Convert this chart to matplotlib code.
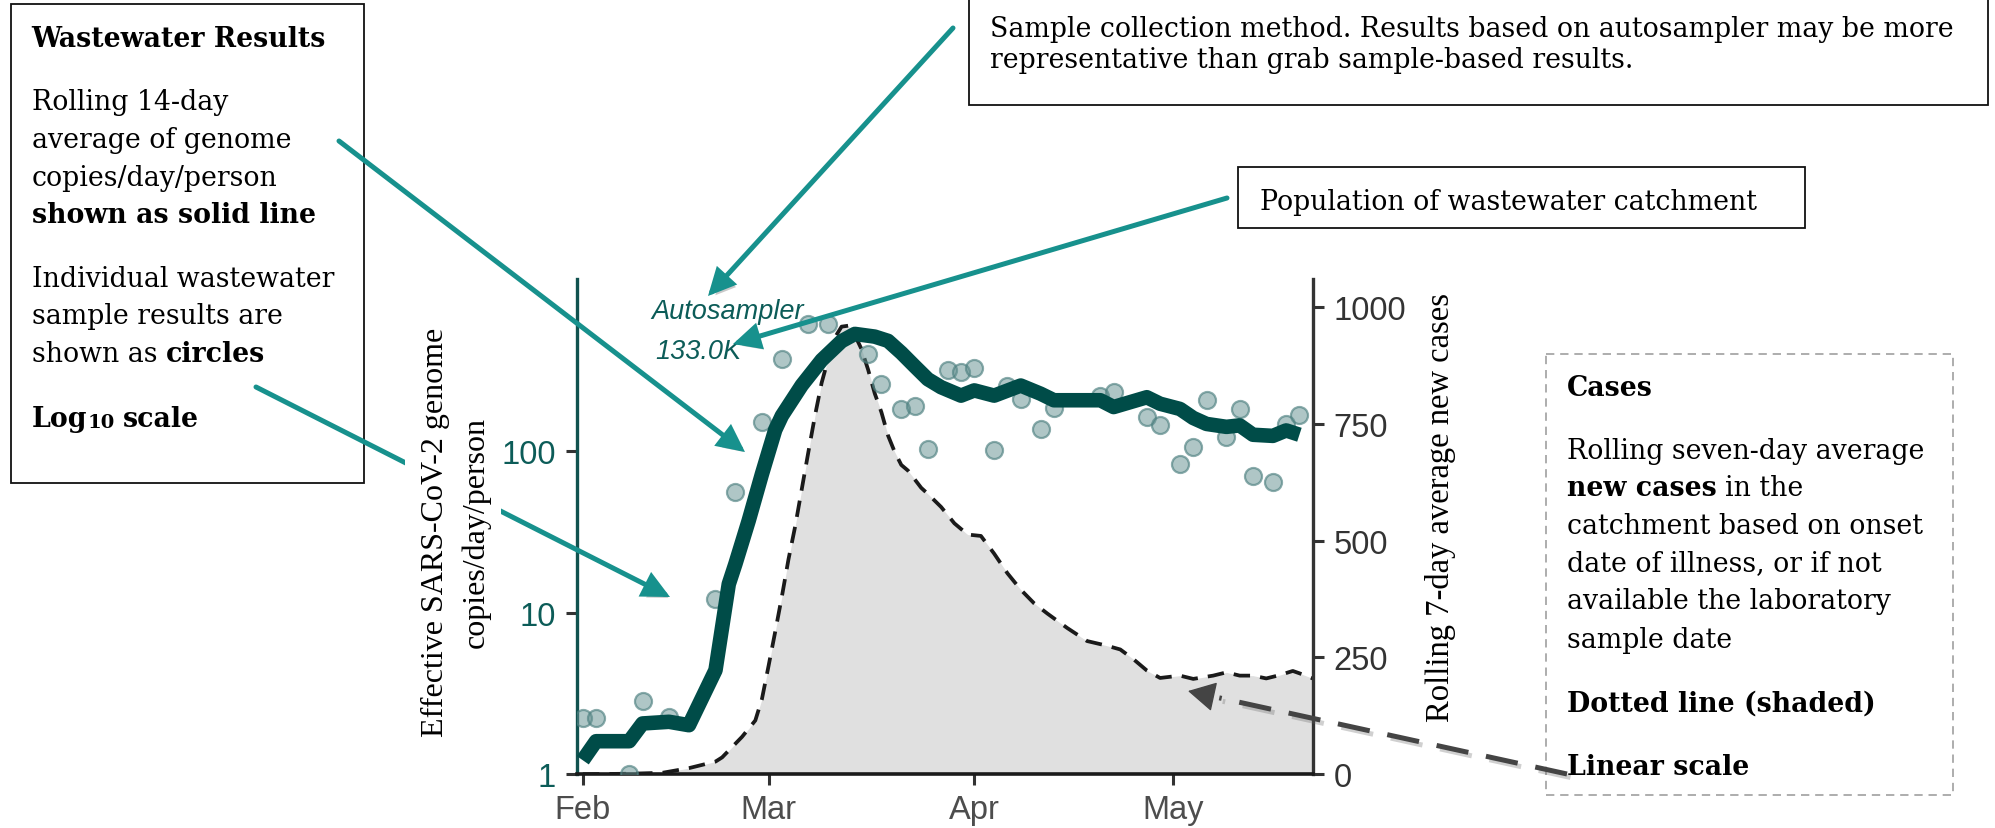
import matplotlib
matplotlib.use("Agg")
import matplotlib.pyplot as plt
from matplotlib.patches import Rectangle, FancyArrowPatch
from matplotlib.lines import Line2D
import matplotlib.patheffects as pe
import pandas as pd
import numpy as np

plt.rcParams['font.family'] = ['Liberation Sans', 'DejaVu Sans']

# ---------------- data ----------------
sample_dates = ["2022-02-01", "2022-02-03", "2022-02-08", "2022-02-10", "2022-02-14",
                "2022-02-21", "2022-02-24", "2022-02-28", "2022-03-03", "2022-03-07",
                "2022-03-10", "2022-03-16", "2022-03-18", "2022-03-21", "2022-03-23",
                "2022-03-25", "2022-03-28", "2022-03-30", "2022-04-01", "2022-04-04",
                "2022-04-06", "2022-04-08", "2022-04-11", "2022-04-13", "2022-04-20",
                "2022-04-22", "2022-04-27", "2022-04-29", "2022-05-02", "2022-05-04",
                "2022-05-06", "2022-05-09", "2022-05-11", "2022-05-13", "2022-05-16",
                "2022-05-18", "2022-05-20"]
sample_copies = [2.22, 2.22, 1.0, 2.85, 2.27, 12.1, 56, 152, 373, 610,
                 610, 399, 261, 182, 191, 103, 315, 308, 326, 101,
                 254, 210, 137, 184, 220, 231, 162, 144, 83, 106,
                 208, 122, 182, 70, 64, 147, 167]

avg_dates = ["2022-02-01", "2022-02-03", "2022-02-08", "2022-02-10", "2022-02-14",
             "2022-02-17", "2022-02-21", "2022-02-23", "2022-02-24", "2022-02-26",
             "2022-02-28", "2022-03-02", "2022-03-03", "2022-03-06", "2022-03-09",
             "2022-03-12", "2022-03-14", "2022-03-17", "2022-03-19", "2022-03-21",
             "2022-03-23", "2022-03-25", "2022-03-27", "2022-03-30", "2022-04-01",
             "2022-04-04", "2022-04-08", "2022-04-11", "2022-04-13", "2022-04-20",
             "2022-04-22", "2022-04-27", "2022-04-29", "2022-05-02", "2022-05-04",
             "2022-05-06", "2022-05-09", "2022-05-11", "2022-05-13", "2022-05-16",
             "2022-05-18", "2022-05-20"]
avg_copies = [1.22, 1.60, 1.60, 2.06, 2.11, 2.01, 4.4, 15, 20, 37,
              72, 135, 165, 255, 365, 478, 530, 510, 480, 405,
              335, 278, 248, 220, 237, 220, 254, 226, 206, 206,
              187, 215, 196, 182, 160, 147, 141, 144, 126, 124,
              134, 126]

case_dates = ["2022-02-01", "2022-02-08", "2022-02-13", "2022-02-17", "2022-02-21",
              "2022-02-22", "2022-02-25", "2022-02-27", "2022-02-28", "2022-03-01",
              "2022-03-02", "2022-03-03", "2022-03-04", "2022-03-05", "2022-03-06",
              "2022-03-07", "2022-03-08", "2022-03-09", "2022-03-10", "2022-03-11",
              "2022-03-12", "2022-03-13", "2022-03-14", "2022-03-15", "2022-03-16",
              "2022-03-17", "2022-03-18", "2022-03-19", "2022-03-20", "2022-03-21",
              "2022-03-22", "2022-03-24", "2022-03-25", "2022-03-27", "2022-03-29",
              "2022-03-31", "2022-04-02", "2022-04-04", "2022-04-06", "2022-04-08",
              "2022-04-10", "2022-04-12", "2022-04-15", "2022-04-18", "2022-04-21",
              "2022-04-23", "2022-04-25", "2022-04-27", "2022-04-29", "2022-05-02",
              "2022-05-04", "2022-05-07", "2022-05-09", "2022-05-11", "2022-05-13",
              "2022-05-15", "2022-05-17", "2022-05-19", "2022-05-20", "2022-05-22"]
case_avg = [0, 1, 3, 13, 27, 36, 80, 115, 161, 232,
            305, 380, 460, 530, 610, 690, 768, 838, 890, 935,
            958, 960, 940, 910, 866, 815, 775, 725, 690, 662,
            650, 613, 600, 572, 537, 513, 510, 472, 430, 395,
            366, 344, 313, 285, 275, 267, 246, 222, 206, 211,
            204, 211, 218, 211, 211, 205, 212, 221, 216, 205]

month_tick_dates = ["2022-02-01", "2022-03-01", "2022-04-01", "2022-05-01"]
month_tick_labels = ["Feb", "Mar", "Apr", "May"]
left_ticks = [1, 10, 100]
right_ticks = [0, 250, 500, 750, 1000]
method_label = "Autosampler"
population_label = "133.0K"

# ---------------- styling ----------------
W, H = 1995, 829
DARK_TEAL = "#004c48"
AXIS_TEAL = "#11524f"
TICK_TEAL = "#0c5c58"
ARROW = "#17918d"
SERIF_BOX = "DejaVu Serif"
SERIF_LAB = "Liberation Serif"
BOX_FS = 19.3
TICK_FS = 23.5

fig = plt.figure(figsize=(W / 100, H / 100), dpi=100, facecolor="white")
ax_rect = [576.7 / W, 1 - 775.2 / H, (1312.7 - 576.7) / W, (775.2 - 280) / H]
ax = fig.add_axes(ax_rect)
ax2 = ax.twinx()
ax.set_zorder(ax2.get_zorder() + 1)
ax.patch.set_visible(False)

sd = pd.to_datetime(sample_dates)
ad = pd.to_datetime(avg_dates)
cd = pd.to_datetime(case_dates)

# cases (linear, right axis)
ax2.fill_between(cd, 0, case_avg, color="#e0e0e0", lw=0, zorder=1)
ax2.plot(cd, case_avg, color="#1a1a1a", lw=2.7, dashes=(4.4, 2.7), zorder=2)
ax2.set_ylim(0, 1060)
ax2.set_yticks(right_ticks)
ax2.set_yticklabels([str(t) for t in right_ticks])

# wastewater (log, left axis)
ax.scatter(sd, sample_copies, s=150, facecolor=(0.38, 0.56, 0.56, 0.5),
           edgecolor=(0.30, 0.50, 0.50, 0.65), linewidths=1.6, zorder=3)
ax.plot(ad, avg_copies, color=DARK_TEAL, lw=10.5, solid_capstyle="butt",
        solid_joinstyle="round", zorder=4)
ax.set_yscale("log")
ax.set_ylim(1, 1159)
ax.set_yticks(left_ticks)
ax.set_yticklabels([str(t) for t in left_ticks])
ax.minorticks_off()
ax.yaxis.set_minor_locator(matplotlib.ticker.NullLocator())

x0 = pd.Timestamp("2022-02-01")
ax.set_xlim(x0 - pd.Timedelta(hours=22), x0 + pd.Timedelta(days=110))
ax.set_xticks(pd.to_datetime(month_tick_dates))
ax.set_xticklabels(month_tick_labels)

for s in ["top", "right"]:
    ax.spines[s].set_visible(False)
ax.spines["left"].set_color(AXIS_TEAL)
ax.spines["left"].set_linewidth(2.4)
ax.spines["bottom"].set_color("#1a1a1a")
ax.spines["bottom"].set_linewidth(2.6)
for s in ["top", "left", "bottom"]:
    ax2.spines[s].set_visible(False)
ax2.spines["right"].set_color("#333333")
ax2.spines["right"].set_linewidth(2.4)

ax.tick_params(axis="y", which="major", length=8, width=2.2, color="#333333",
               labelcolor=TICK_TEAL, labelsize=TICK_FS, pad=7)
ax.tick_params(axis="x", length=8, width=2.2, color="#333333",
               labelcolor="#4d4d4d", labelsize=TICK_FS, pad=6)
ax2.tick_params(axis="y", length=8, width=2.2, color="#333333",
                labelcolor="#333333", labelsize=TICK_FS, pad=7)

# ---------------- overlay (annotations in pixel coordinates) ----------------
ov = fig.add_axes([0, 0, 1, 1], zorder=20)
ov.set_xlim(0, W)
ov.set_ylim(H, 0)
ov.axis("off")

renderer = fig.canvas.get_renderer()


def text_width(s, **kw):
    t = ov.text(0, 0, s, **kw)
    w = t.get_window_extent(renderer=renderer).width
    t.remove()
    return w


def rich(x, y, parts, size=BOX_FS, family=SERIF_BOX):
    sp = (text_width("n n", fontsize=size, family=family)
          - text_width("nn", fontsize=size, family=family))
    for p in parts:
        txt, bold = p[0], p[1]
        fs = p[2] if len(p) > 2 else size
        dy = p[3] if len(p) > 3 else 0
        if txt == " ":
            x += sp
            continue
        t = ov.text(x, y + dy, txt, fontsize=fs, family=family,
                    fontweight="bold" if bold else "normal",
                    va="baseline", ha="left", color="black", zorder=5)
        x += t.get_window_extent(renderer=renderer).width


# left box
ov.add_patch(Rectangle((10.7, 5), 353.3, 479, fill=False, ec="#111111", lw=1.3, zorder=2))
lx = 31.7
rich(lx, 46.7, [("Wastewater Results", True)])
rich(lx, 110, [("Rolling 14-day", False)])
rich(lx, 148.3, [("average of genome", False)])
rich(lx, 185.7, [("copies/day/person", False)])
rich(lx, 222.7, [("shown as solid line", True)])
rich(lx, 286.7, [("Individual wastewater", False)])
rich(lx, 324, [("sample results are", False)])
rich(lx, 361.7, [("shown as", False), (" ", False), ("circles", True)])
rich(lx, 426.7, [("Log", True), ("10", True, 14, 1.5), (" ", True), ("scale", True)])

# top box
ov.add_patch(Rectangle((969.3, -5), 1988 - 969.3, 111, fill=False, ec="#111111", lw=1.3, zorder=2))
rich(990, 36.7, [("Sample collection method. Results based on autosampler may be more", False)])
rich(990, 68.3, [("representative than grab sample-based results.", False)])

# population box
ov.add_patch(Rectangle((1238.3, 168.3), 1805 - 1238.3, 61, fill=False, ec="#111111", lw=1.3, zorder=2))
rich(1260, 210, [("Population of wastewater catchment", False)])

# right (cases) box
ov.add_patch(Rectangle((1546, 354.6), 1953 - 1546, 441, fill=False, ec="#a0a0a0", lw=1.2,
                       ls=(0, (5, 3.5)), zorder=2))
rx = 1566.7
rich(rx, 395.5, [("Cases", True)])
rich(rx, 458.6, [("Rolling seven-day average", False)])
rich(rx, 496.4, [("new cases", True), (" ", False), ("in the", False)])
rich(rx, 533.8, [("catchment based on onset", False)])
rich(rx, 571.3, [("date of illness, or if not", False)])
rich(rx, 609, [("available the laboratory", False)])
rich(rx, 647.6, [("sample date", False)])
rich(rx, 711.4, [("Dotted line (shaded)", True)])
rich(rx, 775.5, [("Linear scale", True)])

# method / population labels in plot
ov.text(651.7, 318.5, method_label, fontsize=19.5, style="italic", color=TICK_TEAL,
        va="baseline", ha="left", family="Liberation Sans", zorder=5)
ov.text(655, 358.8, population_label, fontsize=19.5, style="italic", color=TICK_TEAL,
        va="baseline", ha="left", family="Liberation Sans", zorder=5)

# axis titles
ov.add_patch(Rectangle((405, 320), 96, 425, fc="white", ec="none", zorder=3))
ov.text(435.5, 532, "Effective SARS-CoV-2 genome", rotation=90, fontsize=23,
        family=SERIF_LAB, ha="center", va="center", color="black", zorder=4)
ov.text(476.5, 532, "copies/day/person", rotation=90, fontsize=23,
        family=SERIF_LAB, ha="center", va="center", color="black", zorder=4)
ov.text(1441, 508, "Rolling 7-day average new cases", rotation=90, fontsize=23.5,
        family=SERIF_LAB, ha="center", va="center", color="black", zorder=4)

# teal arrows
shadow = [pe.SimplePatchShadow(offset=(2.5, -2.5), shadow_rgbFace="#666666", alpha=0.35), pe.Normal()]


def teal_arrow(p0, p1, z):
    a = FancyArrowPatch(p0, p1, arrowstyle="-|>,head_length=0.45,head_width=0.22",
                        mutation_scale=32, lw=3.6, color=ARROW, shrinkA=0, shrinkB=0,
                        path_effects=shadow, zorder=z, joinstyle="miter")
    ov.add_patch(a)


teal_arrow((953, 29), (708, 297), 6)
teal_arrow((1227, 199), (733, 345), 6)
teal_arrow((339, 142), (745, 453), 6)
teal_arrow((256, 388), (670, 598), 2)

# dashed dark arrow
p0 = np.array([1567.0, 775.0])
p1 = np.array([1188.0, 692.0])
u = (p1 - p0) / np.linalg.norm(p1 - p0)
head_base = p1 - 20 * u
line_end = head_base - 12 * u
ln = Line2D([p0[0], line_end[0]], [p0[1], line_end[1]], color="#444444", lw=3.6,
            dashes=(6.5, 3.6), solid_capstyle="butt", dash_capstyle="butt", zorder=6,
            path_effects=[pe.SimpleLineShadow(offset=(2.5, -2.5), shadow_color="#666666", alpha=0.3),
                          pe.Normal()])
ov.add_line(ln)
ov.add_patch(FancyArrowPatch(tuple(head_base), tuple(p1), arrowstyle="-|>,head_length=0.55,head_width=0.3",
                             mutation_scale=32, lw=1.0, color="#444444", shrinkA=0, shrinkB=0,
                             zorder=6))

fig.savefig("out.png", dpi=100, facecolor="white")
